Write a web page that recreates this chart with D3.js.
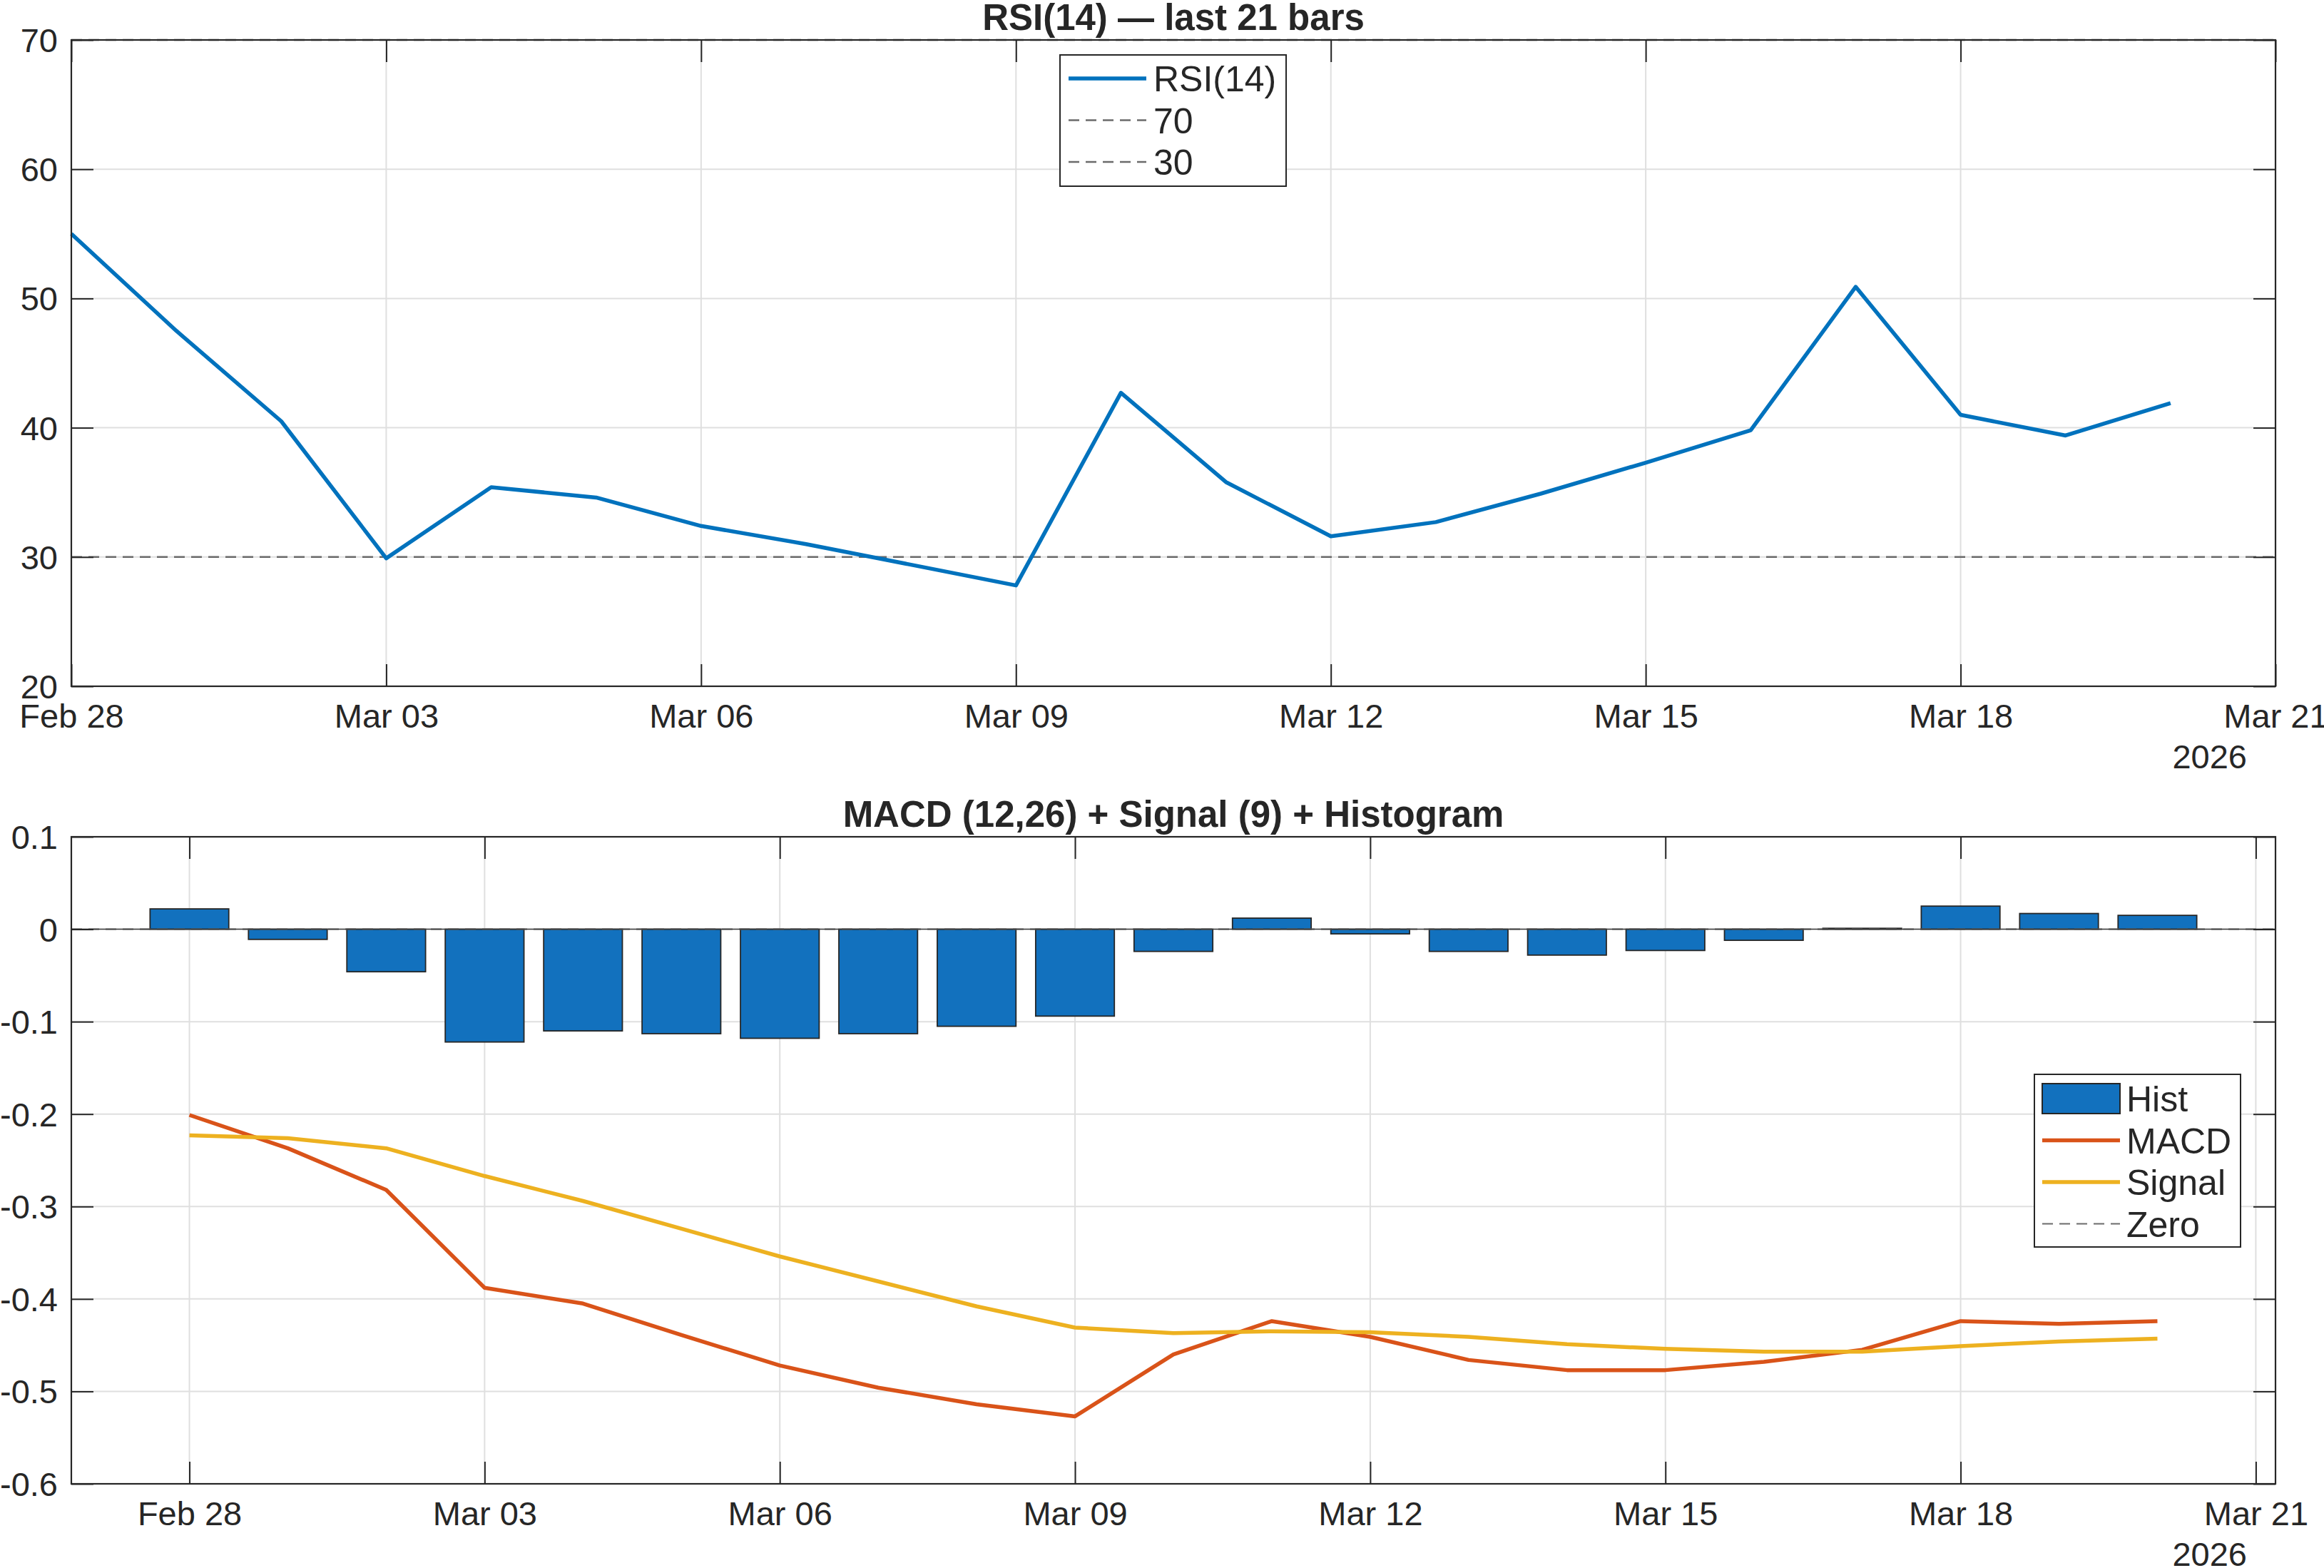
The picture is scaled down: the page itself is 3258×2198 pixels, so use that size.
<!DOCTYPE html>
<html>
<head>
<meta charset="utf-8">
<script src="https://cdn.jsdelivr.net/npm/d3@7"></script>
<style>
  body { margin: 0; background: #fff; }
  text { font-family: "Liberation Sans", Arial, Helvetica, sans-serif; fill: #262626; }
</style>
</head>
<body>
<svg id="chart"></svg>
<script>
// data: 21 daily bars, Feb 28 .. Mar 20 2026
const dates = ["2026-02-28", "2026-03-01", "2026-03-02", "2026-03-03", "2026-03-04", "2026-03-05",
  "2026-03-06", "2026-03-07", "2026-03-08", "2026-03-09", "2026-03-10", "2026-03-11", "2026-03-12",
  "2026-03-13", "2026-03-14", "2026-03-15", "2026-03-16", "2026-03-17", "2026-03-18", "2026-03-19",
  "2026-03-20"];
const rsi = [55.0, 47.5, 40.5, 29.9, 35.4, 34.6, 32.4, 31.0, 29.4, 27.8, 42.7, 35.8, 31.6,
  32.7, 34.9, 37.3, 39.8, 50.9, 41.0, 39.4, 41.9];
const macd = [-0.201, -0.237, -0.282, -0.388, -0.405, -0.439, -0.472, -0.496, -0.514, -0.527, -0.460,
  -0.424, -0.441, -0.466, -0.477, -0.477, -0.468, -0.455, -0.424, -0.427, -0.424];
const signal = [-0.223, -0.226, -0.237, -0.267, -0.294, -0.324, -0.354, -0.381, -0.408, -0.431, -0.437,
  -0.435, -0.436, -0.441, -0.449, -0.454, -0.457, -0.457, -0.451, -0.446, -0.443];
const hist = [0.022, -0.011, -0.046, -0.122, -0.110, -0.113, -0.118, -0.113, -0.105, -0.094, -0.024,
  0.012, -0.005, -0.024, -0.028, -0.023, -0.012, 0.001, 0.025, 0.017, 0.015];

const xTickDates = ["2026-02-28", "2026-03-03", "2026-03-06", "2026-03-09", "2026-03-12",
  "2026-03-15", "2026-03-18", "2026-03-21"];
const rsiTicks = [20, 30, 40, 50, 60, 70];
const macdTicks = [-0.6, -0.5, -0.4, -0.3, -0.2, -0.1, 0, 0.1];
const rsiLevels = [70, 30];
const rsiLegend = ["RSI(14)", "70", "30"];
const macdLegend = ["Hist", "MACD", "Signal", "Zero"];
const yearLabel = "2026";

const W = 3258, H = 2198;
const FONT = 47, LEG_FONT = 50, TITLE_FONT = 51, TICK = 31;
const AX = "#262626", GRID = "#dfdfdf", DASH = "#6b6b6b";
const BLUE = "#0072BD", BAR = "#1271BE", ORANGE = "#D95319", YELLOW = "#EDB120";
const LW = 5.5;

const parse = d3.utcParse("%Y-%m-%d");
const fmt = d3.utcFormat("%b %d");
const DAY = 864e5;
const days = dates.map(parse);
const xTicks = xTickDates.map(parse);

const svg = d3.select("#chart").attr("width", W).attr("height", H);
svg.append("rect").attr("width", W).attr("height", H).attr("fill", "#fff");

// light grid under the data
function frame(g, x, y, box, yTicks) {
    const grid = g.append("g").attr("class", "grid");
    grid.selectAll("line.gx").data(xTicks).enter().append("line")
        .attr("x1", d => x(d)).attr("x2", d => x(d))
        .attr("y1", box.top).attr("y2", box.bottom)
        .attr("stroke", GRID).attr("stroke-width", 2);
    grid.selectAll("line.gy").data(yTicks).enter().append("line")
        .attr("y1", d => y(d)).attr("y2", d => y(d))
        .attr("x1", box.left).attr("x2", box.right)
        .attr("stroke", GRID).attr("stroke-width", 2);
}

// ticks on all four sides (inward), box on top
function axes(g, x, y, box, yTicks, yFmt) {
    const bottom = g.append("g")
        .attr("transform", `translate(0,${box.bottom})`)
        .call(d3.axisBottom(x).tickValues(xTicks).tickFormat(fmt)
            .tickSizeInner(-TICK).tickSizeOuter(0).tickPadding(25));
    const top = g.append("g")
        .attr("transform", `translate(0,${box.top})`)
        .call(d3.axisTop(x).tickValues(xTicks).tickFormat("")
            .tickSizeInner(-TICK).tickSizeOuter(0));
    const left = g.append("g")
        .attr("transform", `translate(${box.left},0)`)
        .call(d3.axisLeft(y).tickValues(yTicks).tickFormat(yFmt)
            .tickSizeInner(-TICK).tickSizeOuter(0).tickPadding(19));
    const right = g.append("g")
        .attr("transform", `translate(${box.right},0)`)
        .call(d3.axisRight(y).tickValues(yTicks).tickFormat("")
            .tickSizeInner(-TICK).tickSizeOuter(0));
    [bottom, top, left, right].forEach(a => {
        a.select(".domain").remove();
        a.attr("font-size", FONT).attr("font-family", null);
        a.selectAll(".tick line").attr("stroke", AX).attr("stroke-width", 2);
        a.selectAll(".tick text").attr("fill", AX);
    });
    left.selectAll(".tick text").attr("dy", "0.35em");

    g.append("rect")
        .attr("x", box.left).attr("y", box.top)
        .attr("width", box.right - box.left).attr("height", box.bottom - box.top)
        .attr("fill", "none").attr("stroke", AX).attr("stroke-width", 2.2);

    g.append("text")
        .attr("x", 3150).attr("y", box.bottom + 115)
        .attr("text-anchor", "end").style("font-size", FONT + "px")
        .text(yearLabel);
}

function title(g, box, txt) {
    g.append("text")
        .attr("x", (box.left + box.right) / 2).attr("y", box.top - 14)
        .attr("text-anchor", "middle")
        .style("font-size", TITLE_FONT + "px").style("font-weight", "bold")
        .text(txt);
}

function legend(g, lb, items) {
    g.append("rect")
        .attr("x", lb.x).attr("y", lb.y).attr("width", lb.w).attr("height", lb.h)
        .attr("fill", "#fff").attr("stroke", AX).attr("stroke-width", 2);
    items.forEach((it, i) => {
        const cy = lb.firstY + i * lb.step;
        if (it.type === "patch") {
            g.append("rect")
                .attr("x", lb.sx0).attr("y", cy - 21).attr("width", lb.sx1 - lb.sx0).attr("height", 42)
                .attr("fill", it.color).attr("stroke", AX).attr("stroke-width", 2);
        } else {
            g.append("line")
                .attr("x1", lb.sx0).attr("x2", lb.sx1).attr("y1", cy).attr("y2", cy)
                .attr("stroke", it.color).attr("stroke-width", it.width)
                .attr("stroke-dasharray", it.dash || null);
        }
        g.append("text")
            .attr("x", lb.tx).attr("y", cy + 18)
            .style("font-size", LEG_FONT + "px")
            .text(it.label);
    });
}

// ---------------- RSI panel ----------------
const rsiBox = {left: 100, right: 3190, top: 56, bottom: 962};
const x1 = d3.scaleUtc().domain([parse("2026-02-28"), parse("2026-03-21")]).range([rsiBox.left, rsiBox.right]);
const y1 = d3.scaleLinear().domain([20, 70]).range([rsiBox.bottom, rsiBox.top]);

const g1 = svg.append("g");
frame(g1, x1, y1, rsiBox, rsiTicks);

g1.selectAll("line.level").data(rsiLevels).enter().append("line")
    .attr("x1", rsiBox.left).attr("x2", rsiBox.right)
    .attr("y1", d => y1(d)).attr("y2", d => y1(d))
    .attr("stroke", DASH).attr("stroke-width", 2.5).attr("stroke-dasharray", "15,9");

g1.append("path")
    .datum(rsi)
    .attr("fill", "none").attr("stroke", BLUE).attr("stroke-width", LW)
    .attr("stroke-linejoin", "round")
    .attr("d", d3.line().x((d, i) => x1(days[i])).y(d => y1(d)));

axes(g1, x1, y1, rsiBox, rsiTicks, d3.format("d"));
title(g1, rsiBox, "RSI(14) \u2014 last 21 bars");

legend(g1, {x: 1486, y: 77, w: 317, h: 184, firstY: 110, step: 58.5, sx0: 1498, sx1: 1607, tx: 1617},
    [{label: rsiLegend[0], color: BLUE, width: LW},
     {label: rsiLegend[1], color: DASH, width: 2.5, dash: "15,9"},
     {label: rsiLegend[2], color: DASH, width: 2.5, dash: "15,9"}]);

// ---------------- MACD panel ----------------
const macdBox = {left: 100, right: 3190, top: 1173, bottom: 2080};
const d0 = parse("2026-02-28").getTime();
const x2 = d3.scaleUtc()
    .domain([new Date(d0 - 1.2 * DAY), new Date(d0 + 21.2 * DAY)])
    .range([macdBox.left, macdBox.right]);
const y2 = d3.scaleLinear().domain([-0.6, 0.1]).range([macdBox.bottom, macdBox.top]);

const g2 = svg.append("g");
frame(g2, x2, y2, macdBox, macdTicks);

g2.selectAll("rect.bar").data(hist).enter().append("rect")
    .attr("class", "bar")
    .attr("x", (d, i) => x2(new Date(days[i].getTime() - 0.4 * DAY)))
    .attr("width", (d, i) => x2(new Date(days[i].getTime() + 0.4 * DAY)) - x2(new Date(days[i].getTime() - 0.4 * DAY)))
    .attr("y", d => y2(Math.max(0, d)))
    .attr("height", d => Math.abs(y2(d) - y2(0)))
    .attr("fill", BAR).attr("stroke", AX).attr("stroke-width", 1.8);

// zero: dashed line under the bar baseline
g2.append("line")
    .attr("x1", macdBox.left).attr("x2", macdBox.right)
    .attr("y1", y2(0)).attr("y2", y2(0))
    .attr("stroke", DASH).attr("stroke-width", 2).attr("stroke-dasharray", "15,9");
g2.append("line")
    .attr("x1", macdBox.left).attr("x2", macdBox.right)
    .attr("y1", y2(0)).attr("y2", y2(0))
    .attr("stroke", "#3c3c3c").attr("stroke-width", 1.6);

const line2 = d3.line().x((d, i) => x2(days[i])).y(d => y2(d));
g2.append("path").datum(macd)
    .attr("fill", "none").attr("stroke", ORANGE).attr("stroke-width", LW)
    .attr("stroke-linejoin", "round").attr("d", line2);
g2.append("path").datum(signal)
    .attr("fill", "none").attr("stroke", YELLOW).attr("stroke-width", LW)
    .attr("stroke-linejoin", "round").attr("d", line2);

const macdFmt = d => d === 0 ? "0" : String(+d.toFixed(1));
axes(g2, x2, y2, macdBox, macdTicks, macdFmt);
title(g2, macdBox, "MACD (12,26) + Signal (9) + Histogram");

legend(g2, {x: 2852, y: 1506, w: 289, h: 242, firstY: 1540, step: 58.5, sx0: 2863, sx1: 2972, tx: 2981},
    [{label: macdLegend[0], color: BAR, type: "patch"},
     {label: macdLegend[1], color: ORANGE, width: LW},
     {label: macdLegend[2], color: YELLOW, width: LW},
     {label: macdLegend[3], color: DASH, width: 2, dash: "15,9"}]);
</script>
</body>
</html>
